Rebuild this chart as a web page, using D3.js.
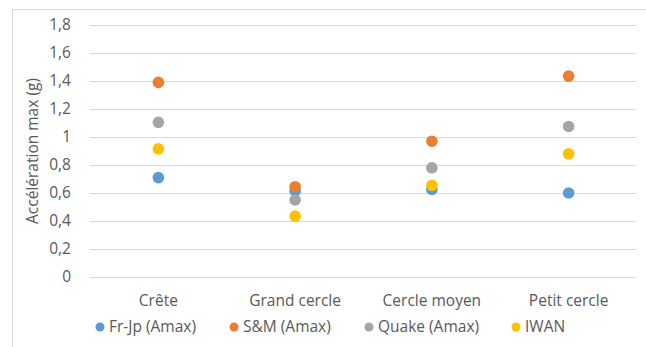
<!DOCTYPE html>
<html>
<head>
<meta charset="utf-8">
<script src="https://cdn.jsdelivr.net/npm/d3@7"></script>
<style>
  html, body { margin: 0; padding: 0; background: #fff; }
  svg { display: block; font-family: "Open Sans", "Noto Sans", sans-serif; }
</style>
</head>
<body>
<svg id="chart" width="646" height="347"></svg>
<script>
// Maximum acceleration per location, one array per model
const categories = ["Crête", "Grand cercle", "Cercle moyen", "Petit cercle"];
const seriesNames = ["Fr-Jp (Amax)", "S&M (Amax)", "Quake (Amax)", "IWAN"];
const frJp  = [0.71, 0.615, 0.625, 0.60];
const sm    = [1.39, 0.645, 0.97, 1.435];
const quake = [1.105, 0.55, 0.78, 1.075];
const iwan  = [0.915, 0.435, 0.655, 0.88];
const yTicks = [0, 0.2, 0.4, 0.6, 0.8, 1, 1.2, 1.4, 1.6, 1.8];
const colors = ["#5B9BD5", "#ED7D31", "#A5A5A5", "#FFC000"];

const series = [frJp, sm, quake, iwan];
const svg = d3.select("#chart");
const textColor = "#595959";
const fontSize = 15.5;

// outer chart frame
svg.append("rect")
  .attr("x", 12.5).attr("y", 9.5)
  .attr("width", 640).attr("height", 345)
  .attr("fill", "none").attr("stroke", "#D9D9D9");

const plot = { left: 90, right: 637, top: 25, bottom: 277 };

const x = d3.scaleBand().domain(categories).range([plot.left, plot.right]);
const y = d3.scaleLinear().domain([0, 1.8]).range([plot.bottom, plot.top]);

// horizontal gridlines
svg.append("g").selectAll("line")
  .data(yTicks).join("line")
  .attr("x1", plot.left).attr("x2", plot.right)
  .attr("y1", d => Math.round(y(d)) + 0.5).attr("y2", d => Math.round(y(d)) + 0.5)
  .attr("stroke", "#D9D9D9").attr("stroke-width", 1);

// y tick labels (decimal comma)
const fmt = d => String(d).replace(".", ",");
svg.append("g").selectAll("text")
  .data(yTicks).join("text")
  .attr("x", 71).attr("y", d => y(d))
  .attr("dy", "0.35em")
  .attr("text-anchor", "end")
  .attr("font-size", fontSize)
  .attr("fill", textColor)
  .text(fmt);

// y axis title
svg.append("text")
  .attr("transform", `translate(33,${(plot.top + plot.bottom) / 2}) rotate(-90)`)
  .attr("text-anchor", "middle")
  .attr("dy", "0.35em")
  .attr("font-size", fontSize)
  .attr("fill", textColor)
  .text("Accélération max (g)");

// category labels
svg.append("g").selectAll("text")
  .data(categories).join("text")
  .attr("x", d => x(d) + x.bandwidth() / 2)
  .attr("y", 301).attr("dy", "0.35em")
  .attr("text-anchor", "middle")
  .attr("font-size", fontSize)
  .attr("fill", textColor)
  .text(d => d);

// markers, one group per series
series.forEach((vals, i) => {
  svg.append("g").selectAll("circle")
    .data(vals).join("circle")
    .attr("cx", (d, j) => x(categories[j]) + x.bandwidth() / 2)
    .attr("cy", d => y(d))
    .attr("r", 5.8)
    .attr("fill", colors[i]);
});

// legend
const legendX = [100, 234, 369, 516];
const legend = svg.append("g").selectAll("g")
  .data(seriesNames).join("g")
  .attr("transform", (d, i) => `translate(${legendX[i]},327)`);
legend.append("circle").attr("r", 4.5).attr("fill", (d, i) => colors[i]);
legend.append("text")
  .attr("x", 9).attr("dy", "0.35em")
  .attr("font-size", fontSize)
  .attr("fill", textColor)
  .text(d => d);
</script>
</body>
</html>
